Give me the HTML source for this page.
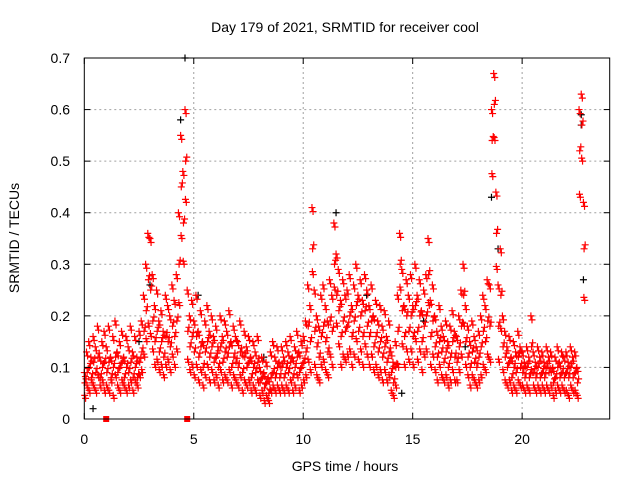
<!DOCTYPE html>
<html><head><meta charset="utf-8"><style>
body{margin:0;background:#fff}
svg{font-family:"Liberation Sans",sans-serif;display:block}
</style></head><body>
<svg id="chart" width="640" height="480" viewBox="0 0 640 480">
<rect width="640" height="480" fill="#fff"/>
<text x="345" y="32" font-size="14" text-anchor="middle">Day 179 of 2021, SRMTID for receiver cool</text>
<text x="345" y="471" font-size="14" text-anchor="middle">GPS time / hours</text>
<text x="19" y="238" font-size="14" text-anchor="middle" transform="rotate(-90 19 238)">SRMTID / TECUs</text>
<g id="grid"></g>
<g id="marks"></g>
<g id="axes"></g>
</svg>
<script>
const xTicks=[0,5,10,15,20];
const yTicks=[0,0.1,0.2,0.3,0.4,0.5,0.6,0.7];
const yTickLabels=["0","0.1","0.2","0.3","0.4","0.5","0.6","0.7"];
const tStart=0, tStep=0.1;
const redHi=[.09,.13,.15,.12,.16,.14,.18,.12,.15,.17,
.14,.18,.12,.16,.19,.13,.15,.17,.12,.16,
.14,.18,.13,.16,.12,.17,.19,.24,.30,.36,
.35,.28,.22,.25,.19,.21,.17,.24,.22,.20,
.26,.23,.28,.40,.55,.48,.60,.25,.20,.23,
.19,.24,.17,.21,.15,.19,.22,.17,.20,.16,
.18,.14,.20,.16,.19,.17,.21,.15,.18,.16,
.15,.19,.13,.17,.14,.16,.12,.15,.13,.16,
.10,.12,.09,.11,.08,.13,.15,.12,.14,.11,
.14,.12,.15,.13,.16,.12,.14,.17,.13,.15,
.16,.19,.26,.22,.41,.25,.20,.18,.24,.26,
.22,.19,.27,.24,.38,.32,.29,.23,.27,.24,
.25,.28,.22,.26,.30,.24,.27,.23,.28,.25,
.22,.26,.20,.23,.19,.22,.18,.21,.16,.19,
.13,.11,.15,.24,.36,.29,.22,.27,.24,.28,
.22,.30,.24,.27,.21,.25,.28,.35,.23,.26,
.20,.17,.22,.18,.16,.19,.15,.18,.21,.17,
.16,.20,.25,.30,.22,.18,.15,.19,.16,.14,
.17,.20,.24,.22,.27,.26,.60,.67,.44,.26,
.33,.20,.17,.14,.16,.12,.15,.13,.17,.14,
.13,.11,.14,.12,.20,.13,.11,.14,.12,.13,
.11,.14,.12,.13,.10,.12,.14,.11,.13,.12,
.13,.11,.14,.12,.13,.10,.60,.63,.42];
const redMid=[.07,.09,.10,.08,.11,.09,.12,.08,.10,.11,
.09,.11,.08,.10,.12,.09,.10,.11,.08,.10,
.09,.11,.08,.10,.08,.11,.13,.17,.21,.27,
.25,.19,.15,.17,.13,.15,.12,.16,.15,.14,
.18,.16,.19,.30,.45,.38,.50,.17,.14,.16,
.13,.16,.12,.14,.10,.13,.15,.12,.14,.11,
.12,.10,.14,.11,.13,.12,.14,.10,.12,.11,
.10,.13,.09,.12,.10,.11,.08,.10,.09,.11,
.07,.08,.06,.07,.05,.08,.09,.08,.10,.08,
.10,.08,.10,.09,.11,.08,.10,.12,.09,.10,
.11,.13,.18,.15,.33,.17,.14,.12,.16,.18,
.15,.13,.19,.17,.30,.24,.21,.16,.19,.17,
.18,.20,.16,.19,.22,.17,.20,.16,.21,.18,
.16,.19,.14,.16,.13,.15,.12,.14,.11,.13,
.09,.07,.10,.17,.30,.21,.16,.20,.17,.20,
.16,.22,.17,.20,.15,.18,.20,.28,.16,.19,
.14,.12,.15,.13,.11,.13,.10,.12,.15,.12,
.11,.14,.18,.24,.15,.12,.10,.13,.11,.10,
.12,.14,.17,.15,.19,.18,.54,.61,.36,.18,
.24,.14,.12,.10,.11,.08,.10,.09,.12,.10,
.09,.08,.10,.08,.14,.09,.08,.10,.08,.09,
.08,.10,.09,.09,.07,.08,.10,.08,.09,.08,
.09,.08,.10,.08,.09,.07,.52,.57,.33];
const redLo=[.04,.06,.05,.07,.06,.05,.08,.06,.07,.05,
.06,.05,.07,.04,.08,.06,.05,.07,.06,.05,
.06,.07,.05,.07,.06,.08,.09,.12,.15,.18,
.16,.13,.10,.11,.09,.10,.08,.10,.11,.09,
.12,.10,.13,.22,.35,.30,.42,.11,.09,.10,
.08,.10,.07,.09,.06,.08,.10,.07,.09,.07,
.08,.06,.09,.07,.08,.07,.09,.06,.08,.07,
.06,.08,.05,.07,.06,.07,.05,.06,.05,.07,
.04,.05,.03,.04,.03,.05,.06,.05,.06,.05,
.06,.05,.06,.05,.07,.05,.06,.08,.05,.06,
.07,.08,.11,.09,.28,.10,.08,.07,.10,.11,
.09,.08,.12,.10,.25,.18,.14,.10,.12,.11,
.12,.13,.10,.12,.15,.11,.13,.10,.14,.12,
.10,.12,.09,.10,.08,.09,.07,.09,.07,.08,
.05,.04,.06,.10,.25,.14,.10,.13,.11,.13,
.10,.15,.11,.13,.09,.12,.13,.22,.10,.12,
.09,.07,.10,.08,.07,.08,.06,.07,.09,.07,
.07,.09,.12,.18,.10,.08,.06,.08,.07,.06,
.07,.08,.10,.09,.12,.11,.47,.54,.29,.11,
.17,.09,.07,.06,.07,.05,.06,.05,.07,.06,
.06,.05,.06,.05,.09,.06,.05,.06,.05,.06,
.05,.06,.05,.06,.04,.05,.06,.05,.06,.05,
.05,.04,.06,.05,.05,.04,.43,.50,.23];
const blackT=[3.0,4.4,4.6,11.5,18.6,18.9,22.7,22.7,22.8,0.4,14.5,5.2,8.2,15.5,12.9,17.4,2.5];
const blackV=[.26,.58,.70,.40,.43,.33,.57,.59,.27,.02,.05,.24,.12,.19,.24,.14,.15];
const gapT=[1.0,4.7];
const gapV=[0,0];

const X0=84.3,X1=609.7,Y0=419,Y1=58,XMAX=24,YMAX=0.7;
const xs=t=>X0+(X1-X0)*t/XMAX;
const ys=v=>Y0-(Y0-Y1)*v/YMAX;
const NS="http://www.w3.org/2000/svg";
function mk(tag,attrs,parent){const e=document.createElementNS(NS,tag);for(const k in attrs)e.setAttribute(k,attrs[k]);parent.appendChild(e);return e;}
const grid=document.getElementById('grid'),marks=document.getElementById('marks'),axes=document.getElementById('axes');
xTicks.forEach((t,i)=>{
  if(t>0&&t<XMAX){const l=mk('line',{x1:xs(t),x2:xs(t),y1:Y0,y2:Y1,stroke:'#a0a0a0','stroke-dasharray':'2,3'},grid);
  
  }
  mk('line',{x1:xs(t),x2:xs(t),y1:Y0,y2:Y0-6,stroke:'#000'},axes);
  mk('line',{x1:xs(t),x2:xs(t),y1:Y1,y2:Y1+6,stroke:'#000'},axes);
  const tx=mk('text',{x:xs(t),y:444,'font-size':14,'text-anchor':'middle'},axes);tx.textContent=String(t);
  
  
});
yTicks.forEach((v,i)=>{
  if(v>0&&v<YMAX){const l=mk('line',{x1:X0,x2:X1,y1:ys(v),y2:ys(v),stroke:'#a0a0a0','stroke-dasharray':'2,3'},grid);
  
  }
  mk('line',{x1:X0,x2:X0+6,y1:ys(v),y2:ys(v),stroke:'#000'},axes);
  mk('line',{x1:X1,x2:X1-6,y1:ys(v),y2:ys(v),stroke:'#000'},axes);
  const tx=mk('text',{x:70,y:ys(v)+5,'font-size':14,'text-anchor':'end'},axes);tx.textContent=yTickLabels[i];
  
  
});
const frame=mk('rect',{x:X0,y:Y1,width:X1-X0,height:Y0-Y1,fill:'none',stroke:'#000'},axes);


function cross(t,v,col,name,dy){
  const x=xs(t),y=ys(v)+(dy||0);
  const p=mk('path',{d:`M${x-3.5} ${y}H${x+3.5}M${x} ${y-3.5}V${y+3.5}`,stroke:col,'stroke-width':1.2,fill:'none'},marks);
  
  
}
blackT.forEach((t,i)=>cross(t,blackV[i],'#000','black-point',0));
[[redHi,0,0],[redMid,0.03,0],[redLo,0.06,0],[redHi,0.05,4],[redMid,0.08,-4],[redLo,0.02,-3]].forEach(([arr,off,dy])=>{
  arr.forEach((v,i)=>cross(tStart+i*tStep+off,v,'#ff0000','red-point',dy));
});
gapT.forEach((t,i)=>{
  const r=mk('rect',{x:xs(t)-3,y:ys(gapV[i])-3,width:6,height:6,fill:'#ff0000'},marks);
  
  
});
</script>
</body></html>
